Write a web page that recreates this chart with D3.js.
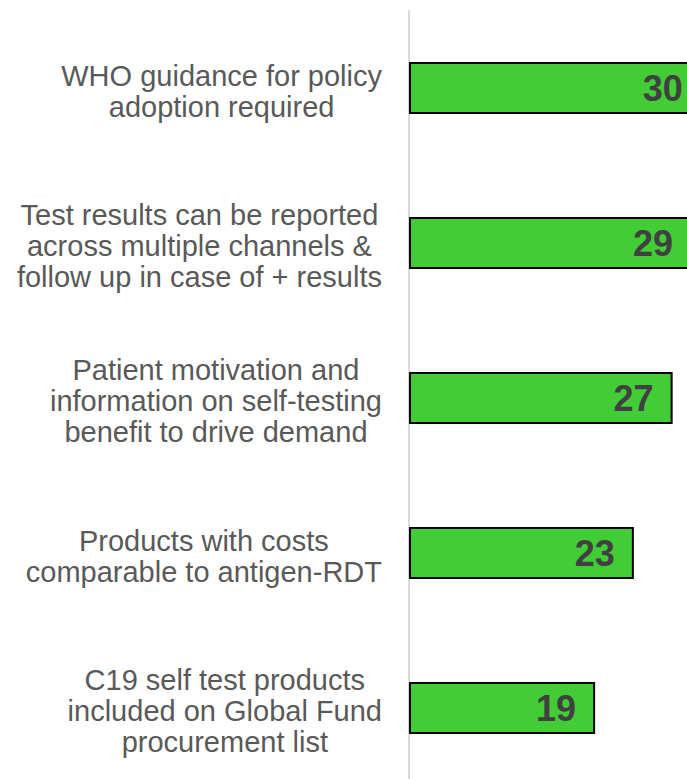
<!DOCTYPE html>
<html>
<head>
<meta charset="utf-8">
<script src="https://cdn.jsdelivr.net/npm/d3@7"></script>
<style>
  body { margin: 0; background: #fff; }
  svg { display: block; }
</style>
</head>
<body>
<div id="chart"></div>
<script>
// data
var categories = [
  "WHO guidance for policy\nadoption required",
  "Test results can be reported\nacross multiple channels &\nfollow up in case of + results",
  "Patient motivation and\ninformation on self-testing\nbenefit to drive demand",
  "Products with costs\ncomparable to antigen-RDT",
  "C19 self test products\nincluded on Global Fund\nprocurement list"
];
var values = [30, 29, 27, 23, 19];

var width = 687, height = 779;
var axis_x = 410; // where the bars start
var label_right = 382; // right edge of the widest label line

var svg = d3.select("#chart").append("svg")
  .attr("width", width)
  .attr("height", height);

var x = d3.scaleLinear()
  .domain([0, 30])
  .range([axis_x, axis_x + 290.7]);

// step 155, bar 50 tall
var y = d3.scaleBand()
  .domain(categories)
  .range([10.5, 785.5])
  .paddingInner(0.6774)
  .paddingOuter(0.3387);

// vertical axis line
svg.append("line")
  .attr("x1", axis_x - 1).attr("x2", axis_x - 1)
  .attr("y1", 10).attr("y2", height)
  .attr("stroke", "#d9d9d9")
  .attr("stroke-width", 2);

// bars
svg.selectAll("rect.bar")
  .data(values)
  .enter()
  .append("rect")
  .attr("class", "bar")
  .attr("x", x(0))
  .attr("y", function(d, i) { return y(categories[i]); })
  .attr("width", function(d) { return x(d) - x(0); })
  .attr("height", y.bandwidth())
  .attr("fill", "#42cc36")
  .attr("stroke", "#000")
  .attr("stroke-width", 2);

// value labels inside bar ends
svg.selectAll("text.value")
  .data(values)
  .enter()
  .append("text")
  .attr("class", "value")
  .attr("x", function(d) { return x(d) - 18; })
  .attr("y", function(d, i) { return y(categories[i]) + y.bandwidth() / 2; })
  .attr("dy", "0.36em")
  .attr("text-anchor", "end")
  .attr("font-family", "Liberation Sans, Arial, sans-serif")
  .attr("font-weight", "bold")
  .attr("font-size", "36px")
  .attr("fill", "#404040")
  .text(function(d) { return d; });

// category labels: lines centred on each other, block pushed against the axis
var line_h = 31;
svg.selectAll("text.cat")
  .data(categories)
  .enter()
  .append("text")
  .attr("class", "cat")
  .attr("text-anchor", "middle")
  .attr("font-family", "Liberation Sans, Arial, sans-serif")
  .attr("font-size", "29px")
  .attr("fill", "#595959")
  .each(function(d) {
    var lines = d.split("\n");
    var cy = y(d) + y.bandwidth() / 2;
    var top = cy - (lines.length - 1) / 2 * line_h;
    var t = d3.select(this);
    var spans = lines.map(function(l, k) {
      return t.append("tspan")
        .attr("y", top + k * line_h)
        .attr("dy", "0.45em")
        .text(l);
    });
    var maxw = d3.max(spans, function(s) { return s.node().getComputedTextLength(); });
    spans.forEach(function(s) { s.attr("x", label_right - maxw / 2); });
  });
</script>
</body>
</html>
